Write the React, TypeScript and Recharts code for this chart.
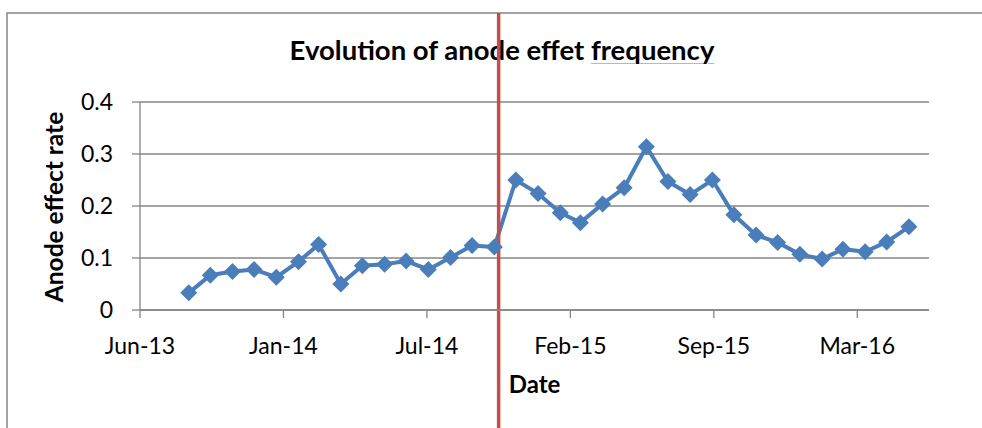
import React from "react";
import {
  CartesianGrid,
  Line,
  LineChart,
  ReferenceLine,
  XAxis,
  YAxis,
} from "recharts";

const BLUE = "#4a7ebb";
const RED = "#c0504d";
const GREY = "#868686";
const FONT = "Lato, 'Open Sans', sans-serif";

// monthly readings, Sep 2013 .. Jun 2016
const MONTHS = [
  "2013-09", "2013-10", "2013-11", "2013-12",
  "2014-01", "2014-02", "2014-03", "2014-04", "2014-05", "2014-06",
  "2014-07", "2014-08", "2014-09", "2014-10", "2014-11", "2014-12",
  "2015-01", "2015-02", "2015-03", "2015-04", "2015-05", "2015-06",
  "2015-07", "2015-08", "2015-09", "2015-10", "2015-11", "2015-12",
  "2016-01", "2016-02", "2016-03", "2016-04", "2016-05", "2016-06",
];
const RATES = [
  0.033, 0.067, 0.074, 0.078,
  0.063, 0.093, 0.126, 0.05, 0.085, 0.088,
  0.094, 0.078, 0.101, 0.124, 0.121, 0.25,
  0.224, 0.187, 0.168, 0.204, 0.235, 0.314,
  0.247, 0.222, 0.25, 0.183, 0.144, 0.13,
  0.107, 0.098, 0.117, 0.112, 0.131, 0.16,
];

// Excel-style date axis: 200-day major unit
const X_DOMAIN = ["2013-06-25", "2016-06-29"];
const X_TICKS = [
  "2013-06-25", "2014-01-11", "2014-07-30",
  "2015-02-15", "2015-09-03", "2016-03-21",
];
const Y_TICKS = [0, 0.1, 0.2, 0.3, 0.4];
// start of the new regime, marked with the red line
const CHANGE_DATE = "2014-11-07";

const MONTH_NAMES = [
  "Jan", "Feb", "Mar", "Apr", "May", "Jun",
  "Jul", "Aug", "Sep", "Oct", "Nov", "Dec",
];

const dayNum = (iso: string) => {
  const [y, m, d] = iso.split("-").map(Number);
  return Date.UTC(y, m - 1, d ?? 1) / 864e5;
};

const dateLabel = (day: number) => {
  const dt = new Date(day * 864e5);
  return `${MONTH_NAMES[dt.getUTCMonth()]}-${String(dt.getUTCFullYear()).slice(2)}`;
};

const data = MONTHS.map((m, i) => ({ t: dayNum(m), v: RATES[i] }));

function Diamond(props: { cx?: number; cy?: number; index?: number }) {
  const { cx, cy, index } = props;
  if (cx == null || cy == null) return <g key={index} />;
  const r = 8.5;
  return (
    <path
      key={index}
      d={`M${cx} ${cy - r} L${cx + r} ${cy} L${cx} ${cy + r} L${cx - r} ${cy} Z`}
      fill={BLUE}
    />
  );
}

function YTitle(props: { viewBox?: { x: number; y: number; height: number } }) {
  const vb = props.viewBox ?? { x: 0, y: 0, height: 0 };
  const cx = vb.x + 23;
  const cy = vb.y + vb.height / 2 + 1;
  return (
    <text
      transform={`translate(${cx} ${cy}) rotate(-90)`}
      textAnchor="middle"
      fontFamily={FONT}
      fontWeight={700}
      fontSize={24.5}
      fill="#000"
    >
      Anode effect rate
    </text>
  );
}

function XTitle(props: { viewBox?: { x: number; y: number; width: number } }) {
  const vb = props.viewBox ?? { x: 0, y: 0, width: 0 };
  return (
    <text
      x={vb.x + vb.width / 2}
      y={vb.y + 83}
      textAnchor="middle"
      fontFamily={FONT}
      fontWeight={700}
      fontSize={24}
      fill="#000"
    >
      Date
    </text>
  );
}

// runs from the chart frame's top edge down past the bottom of the picture
function ChangeLine(props: { x1?: number; x2?: number; y1?: number; y2?: number }) {
  const { x1 = 0, x2 = 0, y1 = 0, y2 = 0 } = props;
  const top = Math.min(y1, y2);
  return <line x1={x1} x2={x2} y1={top - 89} y2={440} stroke={RED} strokeWidth={3.5} />;
}

const tickStyle = { fill: "#000", fontSize: 23, fontFamily: FONT };

export default function App() {
  return (
    <div
      style={{
        position: "absolute",
        left: 0,
        top: 0,
        width: 982,
        height: 428,
        overflow: "hidden",
        background: "#fff",
      }}
    >
      {/* chart frame: only its left and top edges fall inside the picture */}
      <svg
        width={982}
        height={428}
        style={{ position: "absolute", left: 0, top: 0 }}
      >
        <path d="M7 428 V13 H982" fill="none" stroke={GREY} strokeWidth={1.5} />
      </svg>
      <div
        style={{
          position: "absolute",
          left: 22,
          top: 35,
          width: 960,
          textAlign: "center",
          fontFamily: FONT,
          fontWeight: 700,
          fontSize: 27.5,
          lineHeight: "30px",
          color: "#000",
          whiteSpace: "nowrap",
        }}
      >
        Evolution of anode effet{" "}
        <span
          style={{
            textDecoration: "underline",
            textDecorationColor: "#f2a0a0",
            textDecorationThickness: 1,
            textUnderlineOffset: 3,
          }}
        >
          frequency
        </span>
      </div>
      <LineChart
        width={982}
        height={428}
        data={data}
        margin={{ top: 102, right: 53, bottom: 38, left: 40 }}
        style={{ position: "absolute", left: 0, top: 0 }}
      >
        <CartesianGrid stroke={GREY} strokeWidth={1.3} vertical={false} />
        <XAxis
          dataKey="t"
          type="number"
          domain={X_DOMAIN.map(dayNum)}
          ticks={X_TICKS.map(dayNum)}
          tickFormatter={dateLabel}
          tick={tickStyle}
          tickSize={8}
          tickMargin={20}
          height={80}
          stroke={GREY}
          strokeWidth={1.3}
          tickLine={{ stroke: GREY, strokeWidth: 1.3 }}
          label={<XTitle />}
          allowDataOverflow
        />
        <YAxis
          type="number"
          domain={[0, 0.4]}
          ticks={Y_TICKS}
          tick={tickStyle}
          tickSize={8}
          tickMargin={19}
          width={100}
          stroke={GREY}
          strokeWidth={1.3}
          tickLine={{ stroke: GREY, strokeWidth: 1.3 }}
          label={<YTitle />}
        />
        <Line
          type="linear"
          dataKey="v"
          stroke={BLUE}
          strokeWidth={4}
          dot={Diamond}
          activeDot={false}
          isAnimationActive={false}
        />
        <ReferenceLine x={dayNum(CHANGE_DATE)} shape={<ChangeLine />} />
      </LineChart>
    </div>
  );
}
